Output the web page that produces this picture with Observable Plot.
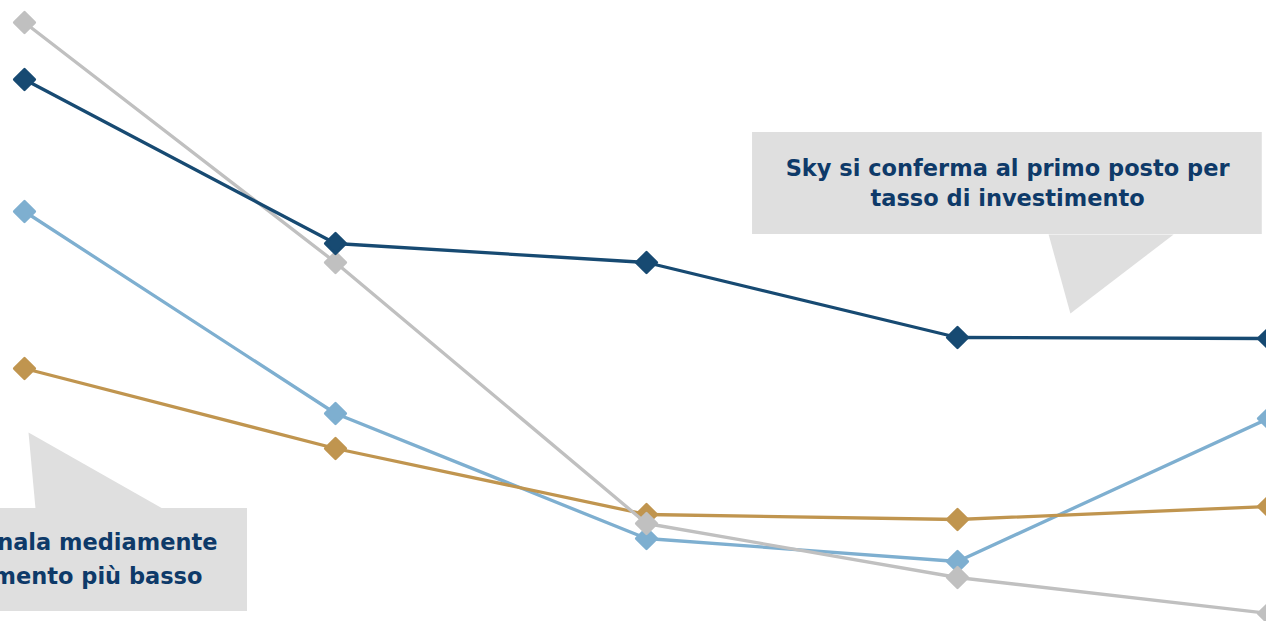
<!DOCTYPE html>
<html>
<head>
<meta charset="utf-8">
<script src="https://cdn.jsdelivr.net/npm/d3@7"></script>
<script src="https://cdn.jsdelivr.net/npm/@observablehq/plot@0.6"></script>
<style>
  html, body { margin: 0; padding: 0; background: #fff; overflow: hidden; }
  #chart svg { display: block; }
</style>
</head>
<body>
<div id="chart"></div>
<script>
// ---- data ----
const periods = [0, 1, 2, 3, 4];
const seriesNames = ["Serie azzurra", "Serie oro", "Serie grigia", "Sky"];
const lightBlueValues = [20.45, 10.35, 4.1, 2.95, 10.1];
const goldValues      = [12.6, 8.6, 5.3, 5.05, 5.7];
const grayValues      = [29.9, 17.9, 4.85, 2.15, 0.35];
const skyValues       = [27.05, 18.85, 17.9, 14.15, 14.1];
const seriesColors = ["#7eafd0", "#c0954f", "#c0c0c0", "#174a72"];
const calloutTexts = [
  "Sky si conferma al primo posto per\ntasso di investimento",
  "nala mediamente",
  "mento più basso"
];

const allValues = [lightBlueValues, goldValues, grayValues, skyValues];
const rows = [];
allValues.forEach((vals, s) => {
  vals.forEach((v, i) => rows.push({ series: seriesNames[s], period: periods[i], value: v }));
});

// callout geometry in data units
const box1 = [{ x1: 2.341, x2: 3.98, y1: 19.3, y2: 24.4 }];
const box2 = [{ x1: -1, x2: 0.717, y1: 0.45, y2: 5.6 }];
const ptr1 = [{ x: 3.293, y: 19.3 }, { x: 3.363, y: 15.35 }, { x: 3.695, y: 19.3 }];
const ptr2 = [{ x: 0.0354, y: 5.6 }, { x: 0.0129, y: 9.4 }, { x: 0.4437, y: 5.6 }];

const textColor = "#0e3a69";
const boxColor = "#dfdfdf";
const font = "'DejaVu Sans', sans-serif";
const fs = 22.5;

const marks = [
  Plot.rect(box1, { x1: "x1", x2: "x2", y1: "y1", y2: "y2", fill: boxColor }),
  Plot.line(ptr1, { x: "x", y: "y", fill: boxColor, stroke: "none" }),
  Plot.rect(box2, { x1: "x1", x2: "x2", y1: "y1", y2: "y2", fill: boxColor }),
  Plot.line(ptr2, { x: "x", y: "y", fill: boxColor, stroke: "none" }),
  Plot.text([calloutTexts[0]], { x: 3.161, y: 21.95, text: d => d, fill: textColor,
    fontSize: fs, fontWeight: "bold", fontFamily: font, lineHeight: 1.33, textAnchor: "middle" }),
  Plot.text([calloutTexts[1]], { x: 0.6206, y: 3.9, text: d => d, fill: textColor,
    fontSize: fs, fontWeight: "bold", fontFamily: font, textAnchor: "end" }),
  Plot.text([calloutTexts[2]], { x: 0.5723, y: 2.2, text: d => d, fill: textColor,
    fontSize: fs, fontWeight: "bold", fontFamily: font, textAnchor: "end" })
];

seriesNames.forEach((name, s) => {
  const data = rows.filter(r => r.series === name);
  marks.push(Plot.line(data, { x: "period", y: "value", stroke: seriesColors[s], strokeWidth: 3.3 }));
  marks.push(Plot.dot(data, { x: "period", y: "value", symbol: "diamond2", r: 9.3,
    fill: seriesColors[s], stroke: seriesColors[s], strokeWidth: 2.5, strokeLinejoin: "round" }));
});

const chart = Plot.plot({
  width: 1266,
  height: 621,
  margin: 0,
  style: { background: "#fff", overflow: "hidden" },
  x: { domain: [0, 4], range: [24, 1268], axis: null },
  y: { domain: [0, 31], range: [620, 0], axis: null },
  marks
});
document.getElementById("chart").appendChild(chart);
</script>
</body>
</html>
